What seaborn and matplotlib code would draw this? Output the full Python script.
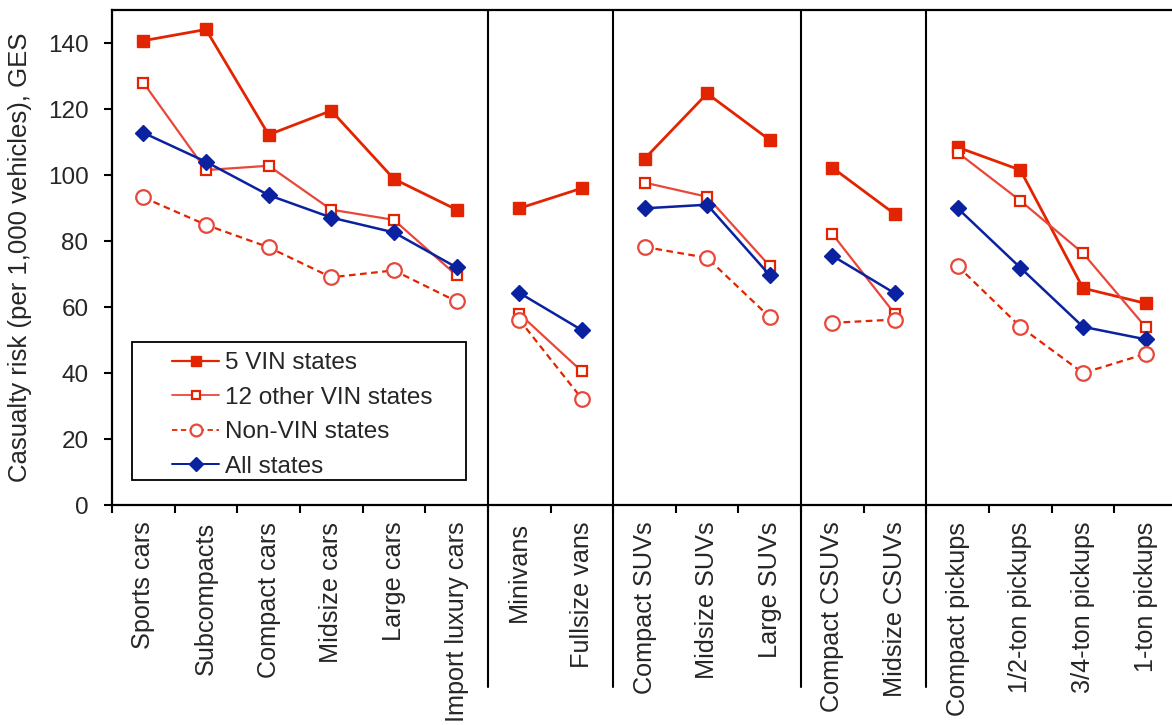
import numpy as np
import pandas as pd
import matplotlib
matplotlib.use("Agg")
import matplotlib.pyplot as plt
import seaborn as sns
from matplotlib.lines import Line2D
from matplotlib.patches import Rectangle

# ---------------- data ----------------
categories = ["Sports cars", "Subcompacts", "Compact cars", "Midsize cars", "Large cars",
              "Import luxury cars", "Minivans", "Fullsize vans", "Compact SUVs", "Midsize SUVs",
              "Large SUVs", "Compact CSUVs", "Midsize CSUVs", "Compact pickups",
              "1/2-ton pickups", "3/4-ton pickups", "1-ton pickups"]
groups = ["Cars"] * 6 + ["Vans"] * 2 + ["SUVs"] * 3 + ["CSUVs"] * 2 + ["Pickups"] * 4
vin5 = [140.7, 144.1, 112.2, 119.5, 98.8, 89.5, 89.9, 96.0, 104.9, 124.7, 110.6,
        102.2, 88.1, 108.4, 101.5, 65.7, 61.1]
other12 = [128.0, 101.5, 102.8, 89.5, 86.4, 69.6, 58.0, 40.5, 97.7, 93.4, 72.4,
           82.1, 57.8, 106.8, 92.2, 76.3, 53.9]
nonvin = [93.2, 84.9, 78.1, 69.0, 71.1, 61.7, 56.2, 32.2, 78.2, 74.9, 56.9,
          55.2, 56.2, 72.4, 54.0, 40.0, 45.8]
allstates = [112.8, 104.0, 93.9, 87.1, 82.6, 72.0, 64.3, 53.0, 89.9, 91.0, 69.6,
             75.5, 64.1, 89.9, 71.9, 54.0, 50.2]
series_names = ["5 VIN states", "12 other VIN states", "Non-VIN states", "All states"]
yticks = [0, 20, 40, 60, 80, 100, 120, 140]
ylabel = "Casualty risk (per 1,000 vehicles), GES"

# ---------------- styling ----------------
sns.set_style("ticks")
plt.rcParams["font.family"] = ["Liberation Sans", "DejaVu Sans"]
FS = 17.5

RED = "#E32400"
RED2 = "#E8473A"
BLUE = "#0A22A0"

styles = {
    "5 VIN states": dict(color=RED, lw=2.0, ls="-", marker="s", ms=9, mfc=RED, mec=RED, mew=1.0, z=3),
    "12 other VIN states": dict(color=RED2, lw=1.6, ls="-", marker="s", ms=7.5, mfc="white", mec=RED, mew=1.6, z=4),
    "Non-VIN states": dict(color=RED, lw=1.6, ls=(0, (3, 2)), marker="o", ms=10.5, mfc="white", mec=RED2, mew=1.6, z=6),
    "All states": dict(color=BLUE, lw=1.8, ls="-", marker="D", ms=8.5, mfc=BLUE, mec=BLUE, mew=1.0, z=5),
}

x_idx = np.arange(len(categories))
frames = []
for name, vals in zip(series_names, [vin5, other12, nonvin, allstates]):
    frames.append(pd.DataFrame({"x": x_idx, "value": vals, "group": groups, "series": name}))
df = pd.concat(frames, ignore_index=True)

fig = plt.figure(figsize=(11.72, 7.25), dpi=100)
W, H = 1172.0, 725.0
left, right, top, bottom = 112, 1177, 10, 505
ax = fig.add_axes([left / W, (H - bottom) / H, (right - left) / W, (bottom - top) / H])

for name in series_names:
    st = styles[name]
    sub = df[df["series"] == name]
    for g in dict.fromkeys(groups):
        gs = sub[sub["group"] == g]
        sns.lineplot(data=gs, x="x", y="value", ax=ax, color=st["color"], linewidth=st["lw"],
                     linestyle=st["ls"], marker=st["marker"], markersize=st["ms"],
                     markerfacecolor=st["mfc"], markeredgecolor=st["mec"],
                     markeredgewidth=st["mew"], zorder=st["z"], legend=False,
                     estimator=None, sort=False)

ax.set_xlim(-0.5, len(categories) - 0.5)
ax.set_ylim(0, 150)
ax.set_yticks(yticks)
ax.set_yticklabels([str(v) for v in yticks], fontsize=FS)
ax.set_xticks(x_idx)
ax.set_xticklabels(categories, rotation=90, fontsize=18.2, va="top", ha="center")
ax.set_xticks(np.arange(-0.5, len(categories), 1.0), minor=True)
ax.tick_params(axis="x", which="major", length=0, pad=12)
ax.tick_params(axis="x", which="minor", length=6, width=1.5, direction="out", color="black")
ax.tick_params(axis="y", which="major", length=6, width=1.5, direction="out", pad=11, color="black")
ax.set_xlabel("")
ax.set_ylabel(ylabel, fontsize=18.5, labelpad=11)
for sp in ax.spines.values():
    sp.set_linewidth(1.6)
    sp.set_color("black")

# group separators (extend below axis)
for b in [5.5, 7.5, 10.5, 12.5]:
    ax.plot([b, b], [1.0, -0.367], transform=ax.get_xaxis_transform(), color="black",
            lw=1.5, clip_on=False, zorder=2)

# legend frame
fx0 = (132 - left) / (right - left)
fx1 = (466 - left) / (right - left)
fy0 = (bottom - 480) / (bottom - top)
fy1 = (bottom - 342) / (bottom - top)
ax.add_patch(Rectangle((fx0, fy0), fx1 - fx0, fy1 - fy0, transform=ax.transAxes,
                       facecolor="white", edgecolor="black", lw=1.3, zorder=7))

handles = []
leg_ms = {"5 VIN states": 6.5, "12 other VIN states": 6, "Non-VIN states": 8.5, "All states": 7}
for name in series_names:
    st = styles[name]
    handles.append(Line2D([0], [0], color=st["color"], lw=st["lw"] * 0.8, ls=st["ls"], marker=st["marker"],
                          ms=leg_ms[name], mfc=st["mfc"], mec=st["mec"], mew=st["mew"]))
leg = ax.legend(handles, series_names, loc="upper left",
                bbox_to_anchor=((172 - left) / (right - left), (bottom - 352) / (bottom - top)),
                frameon=False, fontsize=FS, handlelength=1.95, handletextpad=0.22,
                borderpad=0, borderaxespad=0, labelspacing=0.52)
leg.set_zorder(8)

fig.savefig("out.png", dpi=100)
